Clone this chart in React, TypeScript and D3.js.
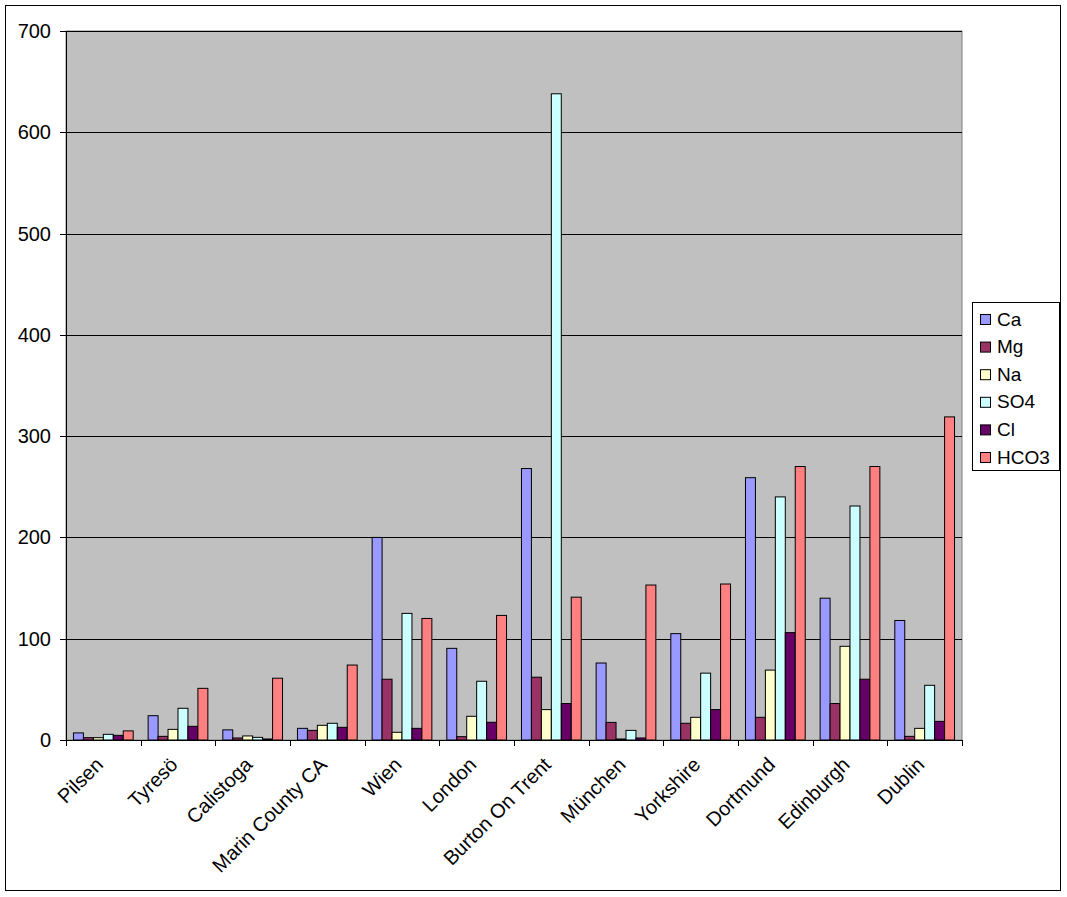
import React from "react";
import * as d3 from "d3";

const categories = ["Pilsen", "Tyresö", "Calistoga", "Marin County CA", "Wien", "London", "Burton On Trent", "München", "Yorkshire", "Dortmund", "Edinburgh", "Dublin"];
const seriesNames = ["Ca", "Mg", "Na", "SO4", "Cl", "HCO3"];
const seriesColors = ["#9999FF", "#993366", "#FFFFCC", "#CCFFFF", "#660066", "#FF8080"];
const Ca = [7, 24, 10, 11.5, 200, 90.5, 268, 76, 105, 259, 140, 118];
const Mg = [2.3, 3.6, 2, 9.5, 60, 3.3, 62, 17.4, 16.5, 22.4, 36, 3.6];
const Na = [2.3, 10.5, 4, 14.5, 7.6, 23.4, 30, 1, 22.4, 69, 92.5, 11.5];
const SO4 = [5.6, 31.3, 2.6, 16.5, 125, 58, 638, 9.5, 66, 240, 231, 54];
const Cl = [4.6, 13.5, 1, 12.5, 11.5, 17.5, 36, 2, 30, 106, 60, 18.4];
const HCO3 = [9, 51, 61, 74, 120, 123, 141, 153, 154, 270, 270, 319];
const seriesValues = [Ca, Mg, Na, SO4, Cl, HCO3];
const yTicks = [0, 100, 200, 300, 400, 500, 600, 700];

export default function App() {
  const W = 1067, H = 897;
  const left = 66, right = 962, top = 31, bottom = 740;
  const x0 = d3.scaleBand<string>().domain(categories).range([left, right]).paddingInner(0).paddingOuter(0);
  const bw = x0.bandwidth() / 7.5;
  const x1 = d3.scaleBand<string>().domain(seriesNames).range([0, bw * 6]).padding(0);
  const y = d3.scaleLinear().domain([0, 700]).range([bottom, top]);
  const font = "'Liberation Sans', Arial, sans-serif";
  return (
    <svg width={W} height={H} style={{ position: "absolute", left: 0, top: 0, background: "#fff" }} fontFamily={font}>
      <rect x={5.5} y={5.5} width={1055} height={885} fill="#fff" stroke="#000" strokeWidth={1} />
      <rect x={left} y={top} width={right - left} height={bottom - top} fill="#C0C0C0" stroke="#808080" strokeWidth={1} />
      {yTicks.filter((t) => t > 0).map((t) => (
        <line key={"g" + t} x1={left} x2={right} y1={Math.round(y(t)) + 0.5} y2={Math.round(y(t)) + 0.5} stroke="#000" strokeWidth={1} />
      ))}
      {categories.map((c, i) => (
        <g key={c}>
          {seriesNames.map((s, j) => {
            const v = seriesValues[j][i];
            const xx = (x0(c) as number) + bw * 0.75 + (x1(s) as number);
            return (
              <rect key={s} x={xx} y={y(v)} width={x1.bandwidth()} height={bottom - y(v)} fill={seriesColors[j]} stroke="#000" strokeWidth={1} />
            );
          })}
        </g>
      ))}
      <line x1={left + 0.5} x2={left + 0.5} y1={top} y2={bottom} stroke="#000" />
      <line x1={left} x2={right} y1={bottom + 0.5} y2={bottom + 0.5} stroke="#000" />
      {yTicks.map((t) => (
        <g key={"t" + t}>
          <line x1={left - 6} x2={left} y1={Math.round(y(t)) + 0.5} y2={Math.round(y(t)) + 0.5} stroke="#000" />
          <text x={left - 15} y={y(t)} dy="0.35em" textAnchor="end" fontSize={20} fill="#000">{t}</text>
        </g>
      ))}
      {[...categories.map((c) => x0(c) as number), right].map((xv, i) => (
        <line key={"xt" + i} x1={Math.round(xv) + 0.5} x2={Math.round(xv) + 0.5} y1={bottom} y2={bottom + 6} stroke="#000" />
      ))}
      {categories.map((c) => {
        const cx = (x0(c) as number) + x0.bandwidth() / 2;
        return (
          <text key={"l" + c} transform={`translate(${cx - 4},${bottom + 21}) rotate(-45)`} textAnchor="end" dy="0.35em" fontSize={20} fill="#000">{c}</text>
        );
      })}
      <rect x={972.5} y={302.5} width={87} height={168} fill="#fff" stroke="#000" />
      {seriesNames.map((s, j) => {
        const ly = 319 + j * 27.6;
        return (
          <g key={"lg" + s}>
            <rect x={980.5} y={ly - 4.5} width={10} height={10} fill={seriesColors[j]} stroke="#000" />
            <text x={997} y={ly} dy="0.35em" fontSize={19} fill="#000">{s}</text>
          </g>
        );
      })}
    </svg>
  );
}
